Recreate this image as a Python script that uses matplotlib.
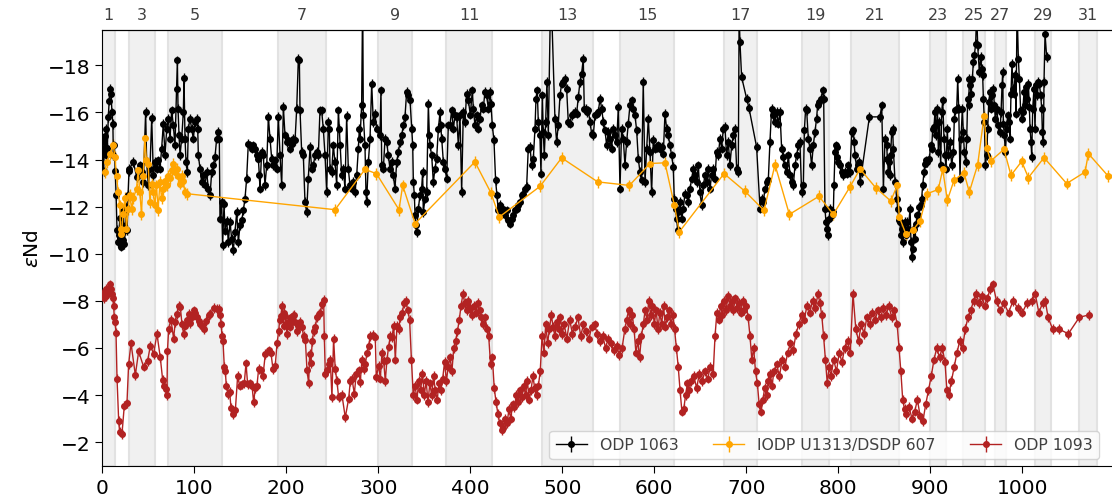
import matplotlib
matplotlib.use("Agg")
import matplotlib.pyplot as plt
import numpy as np

# ---------------------------------------------------------------- data
# ODP 1063 (age in ka, epsilon Nd)
odp1063_age = [0.5, 1.5, 2.5, 3.5, 4.5, 5.5, 6.5, 7.5, 8.5, 9.5, 10.5, 11.5, 12.0, 13.0, 14.0,
    15, 16, 17, 18, 19, 20, 21, 22, 23, 24, 25, 26, 27, 28, 29.0,
    29.4, 33.7, 37.4, 41.0, 42.8, 44.6, 47.1, 48.2, 50.0, 51.8, 53.7, 55.5, 57.3, 59.1, 60.9, 62.7,
    64.5, 66.3, 68.2, 70.0, 71.8, 73.6, 75.4, 77.2, 79.0, 80.8, 81.6, 82.3, 83.4, 84.5, 86.3, 88.1,
    88.8, 89.9, 91.0, 92.4, 93.5, 95.3, 97.1, 98.9, 100.8, 102.6, 103.7, 104.4, 106.2, 108.0, 109.8,
    111.6, 113.4, 115.3, 117.1, 118.9, 120.7, 122.5, 124.3, 126.1, 127.2, 127.9, 129.7, 130.8, 132.3,
    133.4, 135.2, 137.0, 138.8, 140.6, 142.4, 144.2, 146.1, 147.9, 149.7, 151.5, 153.3, 155.1, 156.9,
    158.7, 160.5, 162.4, 164.2, 166.0, 167.8, 169.6, 170.7, 171.4, 173.2, 175.0, 176.8, 178.7, 180.5,
    182.3, 184.1, 185.9, 187.7, 189.5, 191.3, 193.2, 195.0, 196.8, 198.6, 200.4, 202.2, 204.0, 205.8,
    207.6, 209.5, 211.3, 213.1, 214.2, 214.9, 216.7, 218.5, 220.3, 222.1, 223.9, 225.8, 227.6, 229.4,
    231.2, 233.0, 234.8, 236.6, 238.4, 240.2, 242.1, 243.9, 245.7, 246.8, 247.5, 249.3, 251.1, 252.9,
    254.8, 256.6, 257.6, 258.4, 260.2, 262.0, 263.8, 265.6, 267.4, 269.2, 271.1, 272.9, 274.7, 276.5,
    278.3, 279.4, 280.1, 281.9, 283.0, 283.7, 285.5, 286.6, 287.3, 289.2, 291.0, 292.8, 294.6, 296.4,
    298.2, 301.8, 302.9, 303.7, 305.5, 307.3, 309.1, 310.9, 312.7, 314.5, 316.3, 318.1, 320.0, 321.8,
    323.6, 325.4, 327.2, 329.0, 330.8, 332.6, 334.5, 336.3, 337.4, 338.1, 339.2, 339.9, 341.0, 341.7,
    343.5, 345.3, 347.1, 348.2, 348.9, 350.8, 352.6, 354.4, 355.5, 356.2, 358.0, 359.8, 361.6, 363.4,
    365.3, 367.1, 367.8, 368.9, 370.7, 372.5, 374.3, 376.1, 377.9, 379.7, 381.6, 383.4, 385.2, 387.0,
    388.8, 390.6, 392.4, 394.2, 396.0, 397.9, 400.0, 402.2, 403.3, 405.1, 406.9, 408.7, 410.5, 412.3,
    414.1, 415.9, 417.7, 419.6, 421.4, 422.5, 423.9, 425.7, 427.5, 429.0, 430.4, 432.2, 434.1, 435.9,
    437.7, 439.5, 441.3, 443.1, 444.9, 446.7, 448.5, 450.4, 452.2, 454.0, 455.8, 457.6, 459.4, 461.2,
    463.0, 464.9, 466.7, 468.5, 470.3, 471.4, 472.8, 473.9, 475.7, 476.8, 478.3, 479.3, 480.4, 481.9,
    483.3, 484.8, 487.5, 492.0, 493.8, 495.6, 497.5, 499.3, 501.1, 502.9, 504.7, 506.5, 508.3, 510.1,
    512.0, 513.8, 515.6, 517.4, 519.2, 521.0, 522.8, 523.9, 525.4, 526.8, 528.3, 530.1, 531.9, 533.7,
    535.5, 537.3, 539.1, 541.0, 542.8, 544.6, 546.4, 548.2, 550.0, 551.8, 553.6, 555.4, 557.2, 559.1,
    560.9, 562.7, 564.5, 566.3, 568.1, 569.9, 571.7, 573.5, 575.4, 577.2, 579.0, 580.8, 582.6, 584.4,
    586.2, 588.0, 589.9, 591.7, 593.5, 595.3, 597.1, 598.9, 600.7, 602.5, 604.3, 606.2, 608.0, 609.8,
    611.6, 613.4, 615.2, 617.0, 618.8, 620.6, 621.7, 623.2, 624.3, 625.4, 626.1, 627.9, 629.7, 631.5,
    633.3, 635.1, 636.9, 638.8, 640.6, 642.4, 644.2, 646.0, 647.8, 649.6, 651.4, 653.3, 655.1, 656.9,
    658.7, 660.5, 662.3, 664.1, 665.9, 667.7, 669.6, 671.4, 673.2, 675.0, 676.8, 678.6, 680.4, 682.2,
    684.1, 685.9, 687.7, 689.5, 691.3, 692.2, 693.1, 694.9, 700.4, 702.9, 711.2, 714.9, 716.7, 718.5,
    720.3, 722.1, 723.9, 725.7, 727.5, 729.3, 731.2, 733.0, 734.8, 736.6, 738.4, 740.2, 742.0, 743.8,
    745.7, 747.5, 749.3, 751.1, 752.9, 754.7, 756.5, 758.3, 760.1, 762.0, 763.1, 764.5, 765.6, 767.4,
    769.2, 771.0, 772.8, 774.6, 776.4, 777.5, 779.0, 781.2, 783.0, 784.1, 785.5, 786.6, 787.3, 788.4,
    789.9, 791.3, 792.8, 794.6, 795.3, 796.4, 797.2, 798.2, 799.0, 800.1, 801.9, 803.7, 805.5, 807.3,
    809.1, 810.9, 812.7, 814.6, 816.4, 817.1, 818.2, 820.0, 821.8, 822.9, 823.6, 825.4, 833.8, 845.3,
    847.2, 849.0, 850.8, 852.6, 853.3, 854.4, 855.5, 856.2, 856.9, 858.0, 859.1, 859.8, 861.7, 863.5,
    864.6, 866.0, 867.1, 867.8, 868.9, 870.0, 870.7, 872.5, 873.6, 875.1, 876.1, 878.0, 879.0, 879.8,
    880.9, 882.3, 883.4, 884.5, 885.9, 887.0, 888.1, 889.6, 890.6, 891.7, 893.2, 894.3, 895.3, 896.8,
    899.0, 900.4, 901.5, 902.6, 904.0, 905.1, 906.2, 907.7, 908.8, 909.8, 911.3, 912.4, 913.5, 914.9,
    916.0, 917.1, 918.5, 919.6, 921.4, 923.2, 925.1, 926.1, 927.2, 928.7, 929.8, 930.9, 932.3, 933.4,
    934.8, 935.9, 937.0, 938.5, 939.6, 940.6, 941.7, 942.4, 943.2, 944.3, 945.7, 946.8, 947.9, 949.3,
    950.4, 951.5, 953.3, 954.8, 955.9, 956.9, 957.7, 958.8, 959.8, 961.3, 962.4, 963.5, 964.9, 966.0,
    967.1, 968.5, 969.6, 970.7, 972.2, 974.0, 975.8, 976.9, 978.0, 978.7, 979.4, 980.5, 981.6, 983.0,
    984.1, 985.6, 986.7, 987.7, 988.8, 989.9, 991.0, 992.1, 993.2, 994.3, 995.7, 996.8, 998.2, 999.3,
    1000.4, 1001.9, 1003.0, 1004.0, 1005.5, 1006.6, 1007.7, 1008.4, 1009.5, 1010.2, 1011.3, 1012.7,
    1013.8, 1014.9, 1016.4, 1017.4, 1018.5, 1020.0, 1021.1, 1021.8, 1022.9, 1023.6, 1024.7, 1026.5]
odp1063_end = [-14.8, -13.5, -15.0, -14.2, -15.3, -14.5, -15.8, -16.5, -17.0, -16.8, -16.0, -15.5, -14.2, -14.6, -13.5,
    -12.5, -11.0, -10.5, -10.8, -11.5, -10.3, -11.2, -10.6, -11.8, -10.4, -11.0, -12.0, -11.0, -12.5, -13.5,
    -13.61, -13.9, -13.26, -13.75, -13.47, -13.05, -16.02, -13.9, -12.9, -13.61, -15.76, -13.33, -13.9, -13.61, -13.97, -13.61,
    -14.46, -15.52, -14.18, -15.31, -15.74, -14.89, -16.09, -15.45, -14.6, -17.01, -18.21, -16.16, -15.03, -14.18, -14.89, -16.02,
    -17.46, -14.89, -13.9, -13.47, -15.31, -15.74, -15.31, -14.89, -15.59, -15.74, -15.31, -14.18, -13.61, -13.05, -13.33,
    -12.9, -13.47, -12.76, -12.48, -13.47, -13.75, -14.11, -14.89, -15.17, -14.89, -11.49, -12.2, -10.36, -12.11,
    -10.98, -11.41, -10.5, -11.35, -10.64, -10.14, -10.92, -11.77, -10.5, -11.21, -11.42, -11.84, -12.34, -13.19,
    -14.67, -14.6, -14.46, -14.6, -14.46, -14.18, -14.04, -13.33, -12.76, -14.32, -14.18, -12.9, -13.75, -15.81,
    -14.89, -14.04, -13.75, -13.97, -13.61, -15.81, -14.18, -12.9, -16.23, -15.03, -14.74, -14.82, -14.46, -14.67,
    -14.89, -14.82, -16.16, -18.28, -18.21, -16.09, -14.32, -14.18, -12.2, -11.77, -13.19, -14.53, -13.61, -13.75,
    -14.18, -14.32, -14.18, -16.09, -16.09, -15.31, -14.18, -12.62, -15.59, -15.31, -13.61, -13.47, -14.6, -13.9,
    -12.9, -16.09, -15.31, -14.6, -13.33, -13.61, -12.76, -15.85, -13.61, -12.9, -12.76, -13.05, -12.62, -13.33,
    -14.46, -15.31, -14.89, -16.3, -21.0, -15.88, -14.6, -12.62, -12.2, -13.9, -14.89, -17.22, -15.59, -15.95,
    -15.31, -15.03, -16.94, -13.75, -13.61, -14.89, -14.74, -14.18, -13.61, -13.9, -13.33, -12.76, -13.9, -14.32,
    -14.74, -15.03, -15.45, -15.81, -16.87, -16.73, -16.51, -15.31, -14.6, -13.05, -12.48, -11.63, -11.21, -10.92,
    -11.91, -12.48, -12.76, -13.47, -11.77, -12.34, -12.62, -16.37, -15.03, -14.6, -14.18, -13.05, -13.61, -14.04,
    -15.31, -16.02, -15.45, -14.89, -13.9, -13.61, -13.19, -15.45, -15.45, -16.09, -15.31, -15.88, -15.81, -14.6,
    -15.88, -12.62, -16.02, -15.59, -16.8, -16.51, -15.9, -16.94, -16.16, -15.45, -15.88, -15.31, -15.74, -16.3,
    -16.16, -16.87, -16.73, -16.16, -16.87, -16.37, -15.45, -14.82, -13.12, -12.48, -11.84, -12.06, -11.7, -11.91,
    -11.63, -11.84, -11.42, -11.28, -11.49, -11.63, -11.84, -11.91, -12.06, -12.2, -12.48, -12.55, -12.76, -12.83,
    -14.46, -14.53, -13.75, -14.04, -15.31, -16.58, -16.94, -15.59, -15.03, -13.4, -16.73, -15.17, -14.18, -15.59,
    -17.29, -15.03, -21.5, -15.74, -14.74, -15.45, -16.73, -17.22, -17.29, -17.43, -17.01, -15.59, -15.52, -15.88,
    -15.95, -16.02, -15.95, -16.66, -17.29, -17.65, -18.28, -16.16, -16.16, -16.02, -16.09, -15.59, -15.1, -15.03,
    -15.88, -15.95, -16.02, -16.58, -16.16, -15.59, -15.24, -14.6, -15.17, -14.89, -14.46, -15.31, -15.03, -14.74,
    -16.23, -12.76, -15.31, -14.89, -13.75, -14.74, -15.52, -16.3, -16.51, -16.16, -15.88, -15.24, -14.04, -13.47,
    -13.12, -17.29, -13.05, -14.46, -15.74, -14.32, -12.62, -14.82, -14.46, -14.53, -14.6, -14.46, -14.53, -14.25,
    -15.95, -15.31, -15.03, -14.6, -14.18, -13.68, -12.34, -11.91, -11.49, -10.99, -11.77, -12.2, -11.49, -11.91,
    -12.55, -12.48, -12.2, -12.76, -13.19, -13.61, -13.33, -13.05, -13.75, -12.62, -12.06, -12.9, -13.33, -13.05,
    -13.61, -12.76, -13.33, -13.61, -13.19, -14.32, -14.18, -14.89, -14.46, -15.31, -15.38, -14.18, -14.74, -13.75,
    -14.6, -15.03, -15.31, -13.61, -13.47, -20.2, -19.0, -17.5, -16.58, -16.19, -14.53, -11.91, -12.34, -12.2,
    -12.76, -13.05, -13.12, -14.74, -16.16, -15.88, -15.59, -16.02, -15.52, -16.02, -14.46, -14.11, -13.75, -13.47,
    -14.18, -13.33, -13.05, -12.9, -13.75, -14.18, -14.6, -14.74, -12.62, -12.9, -15.24, -16.16, -16.09, -14.89,
    -14.46, -13.75, -14.6, -15.17, -15.74, -16.3, -16.44, -16.58, -16.94, -16.58, -11.91, -11.35, -11.06, -10.78,
    -11.49, -11.91, -11.63, -11.77, -12.9, -14.32, -14.6, -14.53, -14.11, -13.9, -13.75, -13.47, -13.33, -13.47,
    -13.4, -13.75, -13.47, -15.17, -15.24, -14.74, -14.18, -13.61, -13.75, -13.9, -13.05, -13.47, -15.81, -15.81,
    -16.3, -12.76, -14.89, -14.6, -14.04, -13.47, -13.9, -13.33, -14.18, -15.17, -15.31, -14.46, -13.05, -12.34,
    -11.91, -11.42, -11.35, -10.78, -11.06, -10.5, -11.06, -11.35, -10.78, -11.35, -11.06, -11.91, -10.5, -9.86,
    -10.22, -11.06, -10.64, -11.28, -11.63, -11.63, -11.98, -12.06, -12.34, -12.9, -13.47, -13.82, -13.97, -13.9,
    -14.04, -14.6, -14.46, -15.31, -15.38, -16.02, -15.03, -16.16, -14.32, -15.59, -13.75, -16.02, -16.51, -14.89,
    -14.18, -13.61, -15.31, -14.18, -14.74, -13.75, -14.32, -15.74, -16.09, -16.16, -17.43, -16.16, -13.19, -14.89,
    -16.16, -15.17, -14.32, -13.9, -14.89, -16.58, -16.3, -17.43, -17.15, -16.8, -17.43, -18.14, -18.42, -18.92,
    -20.3, -18.85, -17.72, -18.35, -17.86, -17.58, -16.58, -15.59, -13.75, -14.18, -15.31, -16.44, -16.87, -16.16,
    -16.73, -17.01, -16.3, -15.74, -16.16, -15.45, -15.17, -16.02, -17.15, -17.72, -15.52, -15.03, -14.32, -15.31,
    -15.88, -15.59, -14.89, -16.8, -18.07, -17.01, -16.8, -17.58, -15.95, -20.5, -18.28, -17.43, -16.09, -15.74,
    -16.02, -16.87, -16.3, -17.08, -16.58, -17.22, -16.23, -15.31, -14.74, -14.11, -16.16, -17.01,
    -15.31, -17.15, -16.73, -17.29, -17.22, -16.73, -16.16, -15.17, -14.74, -17.29, -19.34, -18.35]

# IODP U1313 / DSDP 607
u1313_age = [3.0, 4.6, 8.4, 12.0, 13.7, 15.5, 17.3, 19.0, 19.8, 20.8, 22.6, 24.5, 26.3, 28.0, 30.0,
    31.8, 33.6, 37.2, 39.0, 40.8, 42.6, 44.4, 46.3, 48.0, 49.9, 51.7, 53.5, 55.3, 57.1, 58.9, 60.7,
    62.6, 64.4, 66.2, 68.0, 69.8, 71.6, 73.4, 75.3, 77.1, 78.9, 80.7, 82.5, 84.3, 86.1, 88.0, 89.8,
    91.6, 253.0, 285.5, 298.0, 322.5, 326.5, 340.0, 405.0, 422.5, 431.5, 475.8, 499.3, 538.5, 572.9,
    595.3, 611.6, 621.7, 627.2, 675.8, 698.6, 719.2, 731.2, 746.8, 779.0, 794.6, 812.7, 823.6, 840.7,
    857.0, 864.1, 866.3, 873.6, 880.8, 888.8, 896.7, 908.7, 913.5, 918.5, 925.8, 936.6, 942.4, 951.5,
    958.4, 961.3, 965.7, 980.1, 987.7, 999.3, 1006.6, 1023.6, 1048.2, 1068.2, 1071.8, 1093.5, 1100.0]
u1313_end = [-13.47, -13.9, -14.25, -14.6, -14.1, -13.3, -12.6, -12.05, -11.07, -10.85, -11.7, -12.35,
    -11.07, -11.9, -12.48, -11.9, -12.35, -12.76, -13.54, -12.6, -11.7, -13.3, -14.9, -13.97, -13.8,
    -12.2, -12.98, -12.6, -12.05, -12.9, -11.84, -13.05, -12.35, -12.76, -13.1, -12.9, -13.3, -13.2,
    -13.54, -13.8, -13.47, -13.6, -13.3, -12.98, -13.3, -13.1, -12.6, -12.55, -11.87, -13.58, -13.4,
    -11.87, -12.9, -11.28, -13.9, -12.58, -11.56, -12.86, -14.07, -13.05, -12.9, -13.83, -13.86,
    -12.08, -10.93, -13.4, -12.65, -11.84, -13.78, -11.67, -12.44, -11.67, -12.84, -13.6, -12.8,
    -12.24, -12.9, -11.56, -10.82, -10.99, -11.39, -12.55, -12.73, -13.58, -12.27, -13.12, -13.44,
    -12.62, -13.78, -15.83, -14.49, -13.94, -14.43, -13.33, -13.92, -13.23, -14.08, -12.98, -13.47,
    -14.25, -13.29, -13.3]

# ODP 1093
odp1093_age = [0.5, 1.5, 2.5, 3.5, 4.5, 5.5, 6.5, 7.5, 8.6, 9.5, 10.5, 11.5, 12.3, 13.0, 14.0, 14.9,
    16.0, 17.8, 18.8, 21.4, 23.9, 26.8, 28.6, 31.2, 35.9, 39.5, 44.9, 49.3, 52.2, 55.8, 59.4, 63.0,
    65.6, 66.7, 69.2, 70.3, 70.8, 72.1, 74.6, 77.5, 79.3, 81.2, 83.0, 84.8, 86.6, 88.4, 90.2, 92.0,
    93.8, 95.7, 97.5, 99.3, 101.1, 102.9, 104.7, 106.5, 108.3, 110.9, 113.0, 115.6, 117.4, 121.0,
    124.6, 126.4, 128.3, 129.3, 130.0, 131.2, 132.6, 133.7, 134.8, 136.6, 138.4, 139.9, 142.0, 144.6,
    147.1, 149.3, 151.8, 154.3, 156.2, 158.0, 160.9, 162.7, 164.5, 166.3, 168.1, 169.9, 172.5, 174.6,
    177.2, 180.8, 183.3, 185.5, 188.0, 189.9, 191.7, 192.8, 194.2, 195.3, 197.1, 197.8, 198.9, 200.7,
    201.8, 203.6, 205.1, 206.1, 207.2, 208.7, 209.8, 211.6, 213.4, 215.2, 217.0, 218.8, 220.7, 222.5,
    224.3, 225.4, 226.8, 228.2, 229.7, 231.5, 233.3, 235.1, 236.9, 238.8, 240.6, 241.3, 242.4, 244.2,
    246.0, 247.8, 249.6, 251.4, 253.2, 255.0, 256.9, 258.7, 260.5, 264.1, 267.8, 269.6, 271.4, 273.9,
    276.1, 278.6, 280.4, 282.2, 284.0, 285.9, 287.7, 289.5, 291.3, 294.2, 296.7, 297.8, 300.4, 302.2,
    304.0, 305.8, 307.6, 309.4, 311.2, 313.0, 314.9, 316.7, 318.5, 320.3, 322.1,
    324, 326, 328, 330, 332, 334, 336, 338, 340, 342, 344, 346, 348, 350, 352, 354, 356, 358, 360, 362,
    364, 366, 368, 370, 372, 374, 376, 378, 380, 382, 384, 386, 388, 390, 392, 394, 396, 398, 400, 402,
    404, 406, 408, 410, 412, 414, 416, 418, 420, 422, 424, 426, 428, 430, 432, 434, 436, 438, 440, 442,
    444, 446, 448, 450, 452, 454, 456, 458, 460, 462, 464, 466, 468, 470, 472, 474, 476, 478, 480, 482,
    484, 486, 488, 490, 492, 494, 496, 498, 500, 502, 505, 508, 511, 514, 517, 520, 523, 526, 529, 532,
    535, 538, 541, 544, 547, 550, 553, 556, 559, 562, 565, 568, 570, 572, 574, 576, 578, 580, 582, 584,
    586, 588, 590, 592, 594, 596, 598, 600, 602, 604, 606, 608, 610, 612, 614, 616, 618, 620, 622, 624,
    626, 628, 630, 632, 634, 636, 638, 640, 643, 646, 649, 652, 655, 658, 661, 664, 666, 668, 670, 672,
    674, 676, 678, 680, 682, 684, 686, 688, 690, 692, 694, 696, 698, 700, 702, 704, 706, 708, 710, 712,
    714, 716, 718, 720, 722, 724, 726, 728, 730, 733, 736, 739, 742, 745, 748, 751, 754, 757, 760, 763,
    766, 769, 772, 775, 778, 780, 782, 784, 786, 788, 790, 792, 795, 798, 801, 804, 807, 810, 813, 816,
    819, 822, 825, 828, 831, 834, 837, 840, 843, 846, 849, 852, 855, 858, 861, 864, 866, 868, 870, 872,
    874, 877, 880, 883, 886, 889, 892, 895, 898, 901, 904, 907, 910, 913, 916, 918, 920, 923, 926, 929,
    932, 935, 938, 941, 944, 947, 950, 953, 956, 959, 962, 965, 968, 972, 976, 980, 985, 990, 995, 1000,
    1005, 1010, 1014, 1018, 1022, 1025, 1028, 1033, 1040, 1050, 1062, 1072]
odp1093_end = [-8.3, -8.1, -8.4, -8.2, -8.5, -8.3, -8.5, -8.4, -8.7, -8.5, -8.3, -8.1, -7.8, -7.3, -7.1,
    -6.65, -4.7, -2.9, -2.45, -2.35, -3.55, -3.65, -5.3, -6.2, -4.85, -5.85, -5.2, -5.45, -6.1, -5.75,
    -6.6, -5.6, -4.65, -4.4, -4.25, -4.0, -5.85, -6.8, -7.2, -6.4, -7.1, -7.45, -7.8, -7.75, -7.0, -6.6,
    -6.95, -7.2, -7.45, -7.05, -7.3, -7.6, -7.5, -7.3, -7.15, -7.0, -6.95, -6.8, -7.15, -7.4, -7.45,
    -7.7, -7.65, -7.65, -7.4, -7.0, -6.5, -6.3, -5.2, -5.0, -4.4, -4.05, -4.15, -3.45, -3.2, -3.35,
    -4.8, -4.4, -4.45, -4.5, -5.35, -4.45, -4.5, -4.4, -3.7, -4.3, -4.4, -5.1, -5.05, -4.8, -5.75, -5.9,
    -5.8, -5.1, -5.25, -6.2, -6.7, -7.2, -7.35, -7.8, -6.95, -7.5, -7.35, -6.6, -7.1, -6.9, -7.3, -7.1,
    -7.35, -7.4, -7.1, -6.7, -6.95, -7.1, -6.9, -6.5, -6.35, -5.05, -4.5, -5.75, -5.35, -6.3, -6.7,
    -6.9, -7.3, -7.45, -7.5, -7.85, -8.05, -6.5, -4.9, -5.05, -5.3, -5.5, -3.9, -6.4, -5.1, -4.6, -3.9,
    -3.95, -4.0, -3.05, -3.85, -4.6, -4.7, -4.05, -4.9, -5.05, -4.55, -5.5, -5.1, -5.3, -5.8, -6.1,
    -6.5, -6.55, -6.45, -4.75, -5.25, -4.7, -5.8, -5.45, -4.6, -5.5, -6.05, -6.5, -6.45, -6.95, -5.5,
    -6.95, -6.8,
    -7.3, -7.5, -7.9, -8.0, -7.6, -7.2, -5.5, -4.0, -4.4, -3.8, -4.6, -4.2, -4.9, -4.0, -4.6, -3.7, -4.5,
    -4.0, -4.8, -4.2, -3.8, -4.5, -4.2, -4.7, -5.4, -4.6, -5.2, -5.6, -5.0, -6.0, -6.3, -6.7, -7.2, -7.8,
    -8.3, -7.9, -7.6, -8.0, -7.7, -7.4, -7.8, -7.5, -7.9, -7.6, -7.3, -7.0, -7.3, -6.8, -6.5, -5.3, -5.6,
    -4.3, -3.7, -3.2, -2.8, -2.5, -2.6, -3.0, -2.8, -3.4, -3.0, -3.6, -3.5, -4.0, -3.7, -4.2, -3.9, -4.4,
    -4.0, -4.6, -3.8, -4.2, -4.8, -4.3, -4.0, -4.4, -5.0, -6.5, -5.8, -7.0, -6.2, -6.8, -7.4, -6.9, -6.5,
    -7.1, -6.8, -7.3, -6.6, -7.0, -6.4, -7.2, -6.6, -6.9, -7.3, -6.5, -7.0, -6.7, -6.4, -6.9, -7.0, -6.6,
    -6.3, -6.5, -6.0, -6.4, -6.2, -5.9, -6.1, -5.7, -6.0, -6.8, -7.2, -7.6, -7.0, -7.4, -6.8, -5.8, -6.3,
    -5.6, -6.5, -7.0, -7.6, -7.2, -8.0, -7.4, -7.8, -7.0, -7.6, -6.8, -7.5, -7.0, -7.8, -6.9, -7.3, -7.6,
    -7.0, -7.4, -6.8, -6.0, -5.2, -4.2, -3.3, -3.4, -4.0, -4.5, -4.2, -4.6, -4.8, -4.3, -4.9, -4.6, -5.0,
    -4.7, -5.2, -4.9, -6.5, -7.5, -7.2, -7.8, -7.4, -8.0, -7.6, -8.2, -7.8, -8.0, -7.6, -8.1, -7.7, -7.9,
    -7.5, -8.0, -7.6, -7.8, -7.3, -6.5, -5.5, -6.0, -5.0, -4.5, -3.6, -3.3, -3.8, -4.3, -4.0, -4.6, -4.9,
    -4.4, -5.0, -5.3, -4.8, -5.5, -5.2, -5.8, -6.2, -5.9, -6.6, -7.0, -7.4, -7.2, -7.8, -7.5, -8.0, -7.7,
    -8.3, -7.9, -7.4, -6.5, -5.5, -4.5, -5.2, -4.8, -5.5, -5.0, -5.8, -5.4, -6.0, -6.3, -5.8, -8.3, -6.8,
    -6.3, -7.0, -6.6, -7.3, -7.0, -7.5, -7.2, -7.6, -7.3, -7.7, -7.4, -7.8, -7.3, -7.6, -7.0, -6.0, -5.0,
    -3.8, -3.4, -3.2, -3.5, -3.0, -3.3, -3.8, -3.1, -2.9, -3.6, -4.2, -4.8, -5.5, -6.0, -5.6, -6.0, -5.4,
    -4.2, -4.0, -4.6, -5.2, -5.8, -6.3, -6.0, -6.8, -7.3, -7.6, -8.0, -8.3, -7.9, -8.2, -7.8, -8.1, -8.5,
    -8.7, -8.0, -7.6, -7.9, -7.5, -8.0, -7.7, -7.5, -7.9, -8.0, -8.3, -7.5, -7.9, -8.0, -7.3, -6.8, -6.8,
    -6.6, -7.3, -7.4]

# Marine isotope stages (odd, interglacial) and their boundaries in ka
mis_labels = ["1", "3", "5", "7", "9", "11", "13", "15", "17", "19", "21", "23", "25", "27", "29", "31"]
mis_start = [0, 29, 71, 191, 300, 374, 478, 563, 676, 761, 814, 900, 936, 970, 1014, 1062]
mis_end = [14, 57, 130, 243, 337, 424, 533, 621, 712, 790, 866, 917, 959, 982, 1031, 1081]

x_ticks = [0, 100, 200, 300, 400, 500, 600, 700, 800, 900, 1000]
y_ticks = [-18, -16, -14, -12, -10, -8, -6, -4, -2]

# ---------------------------------------------------------------- figure
fig = plt.figure(figsize=(11.12, 5.02), dpi=100)
ax = fig.add_axes([0.092, 0.0703, 0.908, 0.868])

for s, e in zip(mis_start, mis_end):
    ax.axvspan(s, e, facecolor="#f0f0f0", edgecolor="#e2e2e2", lw=1.5, zorder=0)

series = [
    (odp1063_age, odp1063_end, "black", 0.2, "ODP 1063"),
    (u1313_age, u1313_end, "orange", 0.25, "IODP U1313/DSDP 607"),
    (odp1093_age, odp1093_end, "firebrick", 0.2, "ODP 1093"),
]
for age, end, col, err, lab in series:
    ax.errorbar(age, end, yerr=err, fmt="-o", color=col, ms=4, lw=1,
                elinewidth=1, label=lab, zorder=3)

ax.set_xlim(0, 1097.5)
ax.set_ylim(-1, -19.5)
ax.set_xticks(x_ticks)
ax.set_yticks(y_ticks)
ax.tick_params(labelsize=14.5, length=5)
ax.set_ylabel(r"$\varepsilon$Nd", fontsize=14.5)
ax.spines["right"].set_visible(False)

top = ax.secondary_xaxis("top")
top.set_xticks([(s + e) / 2 for s, e in zip(mis_start, mis_end)])
top.set_xticklabels(mis_labels)
top.tick_params(length=0, pad=6, labelsize=11.5, labelcolor="0.25")

ax.legend(loc="lower right", ncol=3, fontsize=11.3, framealpha=0.8,
          bbox_to_anchor=(0.994, 0.0), borderaxespad=0.45, labelcolor="0.25",
          columnspacing=2.2)

fig.savefig("out.png", dpi=100)
